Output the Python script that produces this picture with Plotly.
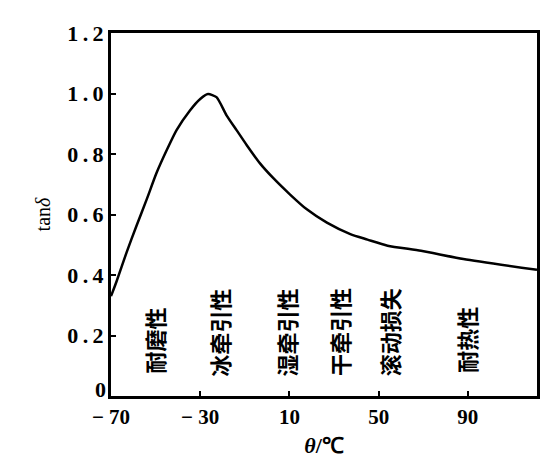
import plotly.graph_objects as go

# curve
temp = [-70, -67.6, -63, -58.6, -54, -49.6, -45, -40.6, -34.6, -30, -26.5, -22.7, -18.2,
        -13.7, -9.2, -3.2, 2.8, 10.3, 17.8, 26.8, 37.3, 45, 54, 69, 88, 121]
tan_d = [0.33, 0.377, 0.475, 0.562, 0.65, 0.737, 0.813, 0.879, 0.944, 0.982, 0.998, 0.988,
         0.928, 0.879, 0.830, 0.769, 0.720, 0.666, 0.617, 0.573, 0.535, 0.517, 0.497,
         0.480, 0.453, 0.417]

x_ticks = [-70, -30, 10, 50, 90]
x_labels = ["\u2212 70", "\u2212 30", "10", "50", "90"]
y_ticks = [0.2, 0.4, 0.6, 0.8, 1.0, 1.2]
y_labels = ["0\u2009.\u20092", "0\u2009.\u20094", "0\u2009.\u20096", "0\u2009.\u20098",
            "1\u2009.\u20090", "1\u2009.\u20092"]

zones = ["耐磨性", "冰牵引性", "湿牵引性", "干牵引性", "滚动损失", "耐热性"]
zone_x = [-50.5, -21.5, 8.5, 32.5, 55, 89]
zone_y = [0.185, 0.21, 0.21, 0.21, 0.21, 0.185]

serif = "Liberation Serif"

fig = go.Figure()
fig.add_trace(go.Scatter(x=temp, y=tan_d, mode="lines",
                         line=dict(color="black", width=2.5, shape="spline", smoothing=0.6),
                         showlegend=False, hoverinfo="skip"))

for name, zx, zy in zip(zones, zone_x, zone_y):
    fig.add_annotation(x=zx, y=zy, text=name, textangle=-90, showarrow=False,
                       font=dict(family="Noto Sans CJK SC", size=22, color="black",
                                 weight="bold"))

# the origin "0" sits a little above the x axis in the original
fig.add_annotation(x=0, xref="paper", y=0, text="0", showarrow=False,
                   xanchor="right", yanchor="bottom", xshift=-3, yshift=-8,
                   font=dict(family=serif, size=22, color="black", weight="bold"))

fig.update_layout(
    width=555, height=459,
    margin=dict(l=103, r=26, t=25, b=67),
    paper_bgcolor="white", plot_bgcolor="white",
    xaxis=dict(range=[-70, 121], tickvals=x_ticks, ticktext=x_labels,
               showgrid=False, zeroline=False, showline=True, linecolor="black",
               linewidth=3, mirror=True, ticks="inside", ticklen=5, tickwidth=2,
               tickcolor="black",
               tickfont=dict(family=serif, size=21, color="black", weight="bold"),
               title=dict(text="<i>θ</i>/℃", standoff=10,
                          font=dict(family=serif, size=22, color="black", weight="bold"))),
    yaxis=dict(range=[0, 1.2], tickvals=y_ticks, ticktext=y_labels,
               showgrid=False, zeroline=False, showline=True, linecolor="black",
               linewidth=3, mirror=True, ticks="inside", ticklen=5, tickwidth=2,
               tickcolor="black",
               tickfont=dict(family=serif, size=22, color="black", weight="bold"),
               title=dict(text="tan<i>δ</i>", standoff=12,
                          font=dict(family=serif, size=20, color="black"))),
)

fig.write_html("out.html")
